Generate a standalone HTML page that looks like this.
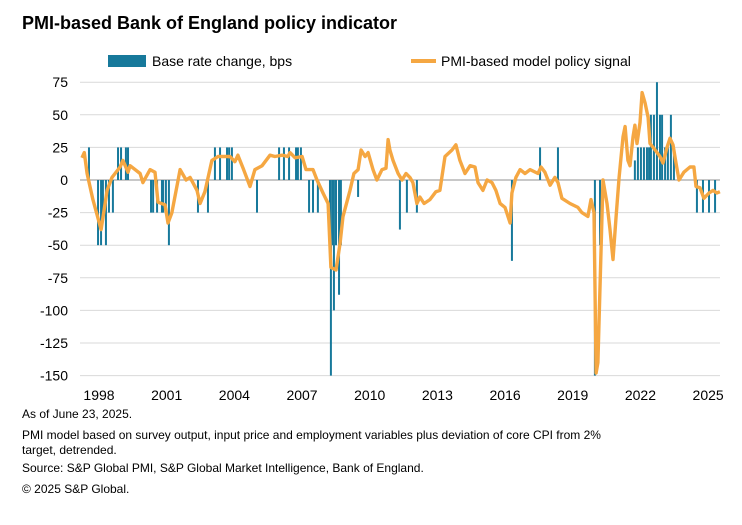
<!DOCTYPE html>
<html><head><meta charset="utf-8"><style>
body{margin:0;background:#fff;width:742px;height:520px;overflow:hidden;font-family:"Liberation Sans",Arial,sans-serif;}
svg text{font-family:"Liberation Sans",Arial,sans-serif;}
</style></head><body>
<svg id="chart" width="742" height="520" xmlns="http://www.w3.org/2000/svg">
<text x="22" y="29" font-size="18" font-weight="bold" fill="#000">PMI-based Bank of England policy indicator</text>
<g>
<rect x="108" y="55" width="38" height="12" fill="#17799b"/>
<text x="152" y="66" font-size="14" fill="#000">Base rate change, bps</text>
<line x1="411" y1="61" x2="436" y2="61" stroke="#f5a742" stroke-width="4"/>
<text x="441" y="66" font-size="14" fill="#000">PMI-based model policy signal</text>
</g>
<g id="grid"></g><g id="bars"></g><g id="line"></g><g id="axes"></g>
<g font-size="12" fill="#000">
<text x="22" y="418">As of June 23, 2025.</text>
<text x="22" y="439">PMI model based on survey output, input price and employment variables plus deviation of core CPI from 2%</text>
<text x="22" y="454">target, detrended.</text>
<text x="22" y="472">Source: S&amp;P Global PMI, S&amp;P Global Market Intelligence, Bank of England.</text>
<text x="22" y="493">© 2025 S&amp;P Global.</text>
</g>
</svg>
<script>
const yTicks=[75,50,25,0,-25,-50,-75,-100,-125,-150];
const xTickYears=[1998,2001,2004,2007,2010,2013,2016,2019,2022,2025];
const barDates=[1998.30,1998.69,1998.82,1998.90,1999.03,1999.16,1999.33,1999.55,1999.68,1999.89,1999.98,2000.97,2001.06,2001.23,2001.44,2001.49,2001.61,2001.74,2002.99,2003.42,2003.72,2003.94,2004.24,2004.33,2004.45,2005.53,2006.48,2006.69,2006.91,2007.21,2007.29,2007.42,2007.77,2007.94,2008.15,2008.67,2008.71,2008.80,2008.84,2008.93,2009.06,2009.14,2009.88,2011.68,2011.98,2012.41,2016.50,2017.71,2018.48,2020.07,2020.29,2021.79,2021.92,2022.05,2022.18,2022.31,2022.40,2022.48,2022.61,2022.74,2022.87,2022.96,2023.09,2023.21,2023.34,2023.47,2024.46,2024.72,2024.98,2025.24];
const barValues=[25,-50,-50,-25,-50,-25,-25,25,25,25,25,-25,-25,-25,-25,-25,-25,-50,-25,-25,25,25,25,25,25,-25,25,25,25,25,25,25,-25,-25,-25,-50,-150,-50,-100,-50,-88,-50,-13,-38,-25,-25,-62,25,25,-150,-50,15,25,25,25,25,25,50,50,75,50,50,25,25,50,25,-25,-25,-25,-25];
const lineDates=[1998.00,1998.10,1998.22,1998.47,1998.82,1999.08,1999.29,1999.64,1999.76,1999.98,2000.07,2000.50,2000.62,2000.93,2001.14,2001.27,2001.57,2001.70,2001.87,2002.22,2002.48,2002.65,2002.95,2003.08,2003.29,2003.59,2003.85,2004.37,2004.58,2004.71,2004.93,2005.23,2005.44,2005.75,2006.09,2006.30,2006.61,2006.86,2006.95,2007.17,2007.47,2007.64,2007.94,2008.11,2008.37,2008.59,2008.71,2008.93,2009.10,2009.23,2009.53,2009.70,2009.88,2010.01,2010.18,2010.31,2010.52,2010.69,2010.91,2011.08,2011.17,2011.25,2011.38,2011.60,2011.77,2011.94,2012.11,2012.24,2012.41,2012.54,2012.72,2012.97,2013.23,2013.40,2013.62,2013.92,2014.09,2014.26,2014.48,2014.70,2014.91,2015.04,2015.25,2015.43,2015.64,2015.81,2015.99,2016.20,2016.42,2016.50,2016.67,2016.85,2017.06,2017.28,2017.62,2017.75,2017.92,2018.14,2018.35,2018.48,2018.65,2019.00,2019.34,2019.51,2019.77,2019.90,2020.03,2020.12,2020.20,2020.42,2020.59,2020.72,2020.85,2020.98,2021.11,2021.28,2021.37,2021.49,2021.58,2021.71,2021.79,2021.88,2022.01,2022.10,2022.23,2022.36,2022.44,2022.66,2022.87,2023.00,2023.17,2023.30,2023.43,2023.56,2023.69,2023.90,2024.16,2024.33,2024.42,2024.59,2024.76,2024.98,2025.15,2025.32,2025.45];
const lineValues=[17,21,5,-15,-38,-8,2,10,15,6,11,5,-2,8,6,-17,-19,-33,-25,8,0,2,-8,-18,-9,15,18,18,14,19,9,-5,8,11,19,18,19,18,21,17,18,8,8,0,-10,-18,-67,-69,-49,-28,-8,5,8,23,18,21,8,0,8,9,31,23,15,5,0,5,2,-2,-18,-13,-18,-15,-9,-8,18,23,27,15,5,11,10,-2,-8,0,-2,-8,-18,-21,-33,-10,2,8,5,8,5,10,6,-4,2,-2,-14,-18,-21,-25,-28,-15,-25,-148,-140,0,-18,-38,-61,-28,2,33,41,15,11,33,42,28,44,67,59,48,28,23,18,13,25,32,27,13,0,6,10,10,-5,-6,-14,-10,-8,-10,-9];

const X0=82,PX=23.24,Y0=180,PY=32.6/25;
const xs=d=>X0+(d-1998)*PX;
const ys=v=>Y0-v*PY;
const xl=yr=>99+(yr-1998)*22.56;
const NS="http://www.w3.org/2000/svg";
function mk(tag,parent){const e=document.createElementNS(NS,tag);document.getElementById(parent).appendChild(e);return e;}

yTicks.forEach(t=>{
  const l=mk('line','grid');
  
  
  l.setAttribute('x1',80);l.setAttribute('x2',720);
  l.setAttribute('y1',ys(t));l.setAttribute('y2',ys(t));
  l.setAttribute('stroke',t===0?'#a6a6a6':'#d9d9d9');l.setAttribute('stroke-width',t===0?1.3:1);
  const tx=mk('text','axes');
  
  
  tx.setAttribute('x',68);tx.setAttribute('y',ys(t)+5);
  tx.setAttribute('text-anchor','end');tx.setAttribute('font-size','14');
  tx.textContent=t;
});
xTickYears.forEach(yr=>{
  const tx=mk('text','axes');
  
  
  tx.setAttribute('x',xl(yr));tx.setAttribute('y',400);
  tx.setAttribute('text-anchor','middle');tx.setAttribute('font-size','14');
  tx.textContent=yr;
});
barDates.forEach((d,i)=>{
  const v=barValues[i];
  const r=mk('rect','bars');
  
  
  r.setAttribute('x',xs(d)-1);r.setAttribute('width',2);
  r.setAttribute('y',Math.min(ys(v),Y0));r.setAttribute('height',Math.abs(ys(v)-Y0));
  r.setAttribute('fill','#17799b');
});
const p=mk('path','line');


p.setAttribute('d',lineDates.map((d,i)=>(i?'L':'M')+xs(d).toFixed(1)+','+ys(lineValues[i]).toFixed(1)).join(''));
p.setAttribute('fill','none');p.setAttribute('stroke','#f5a742');p.setAttribute('stroke-width','3.4');p.setAttribute('stroke-linejoin','round');
</script>
</body></html>
